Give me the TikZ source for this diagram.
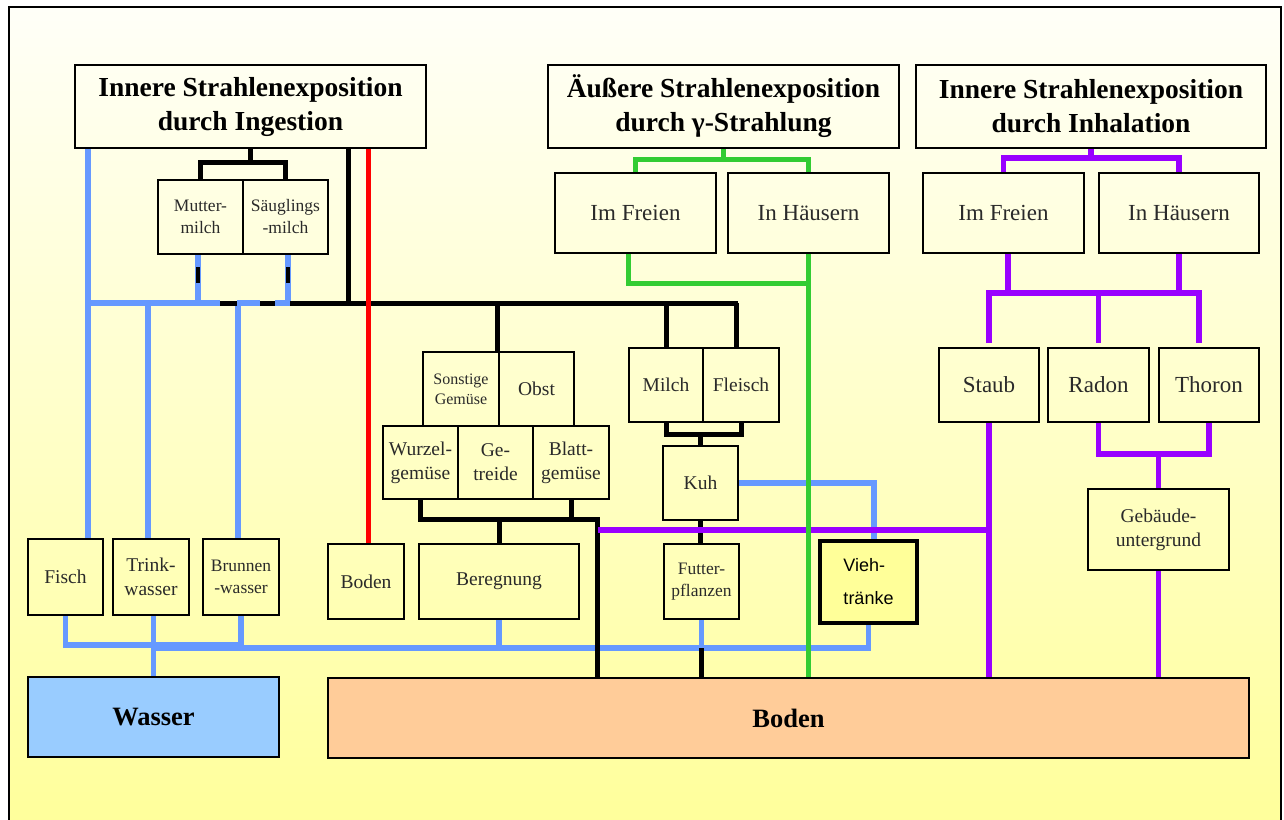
\documentclass[tikz,border=0pt]{standalone}
\usepackage{fontspec}
\setmainfont{Liberation Serif}
\newfontfamily\arialfont{Liberation Sans}
\usetikzlibrary{calc}
\definecolor{cblue}{HTML}{6699FF}
\definecolor{cgreen}{HTML}{33CC33}
\definecolor{cpurple}{HTML}{9900FF}
\definecolor{cred}{HTML}{FF0000}
\definecolor{txtgray}{HTML}{2A2A2A}
\definecolor{bgtop}{HTML}{FFFFF8}
\definecolor{bgmid}{HTML}{FFFFD2}
\definecolor{bgbot}{HTML}{FFFF99}
\definecolor{wasserfill}{HTML}{99CCFF}
\definecolor{bodenfill}{HTML}{FFCC99}
\definecolor{viehfill}{HTML}{FFFF99}
\newcommand{\mkbox}[7][boxM]{\node[#1, minimum width={#5-#3}, minimum height={#6-#4}] (#2) at ({(#3+#5)/2},{(#4+#6)/2}) {#7};}
\begin{document}
\begin{tikzpicture}[x=1pt,y=-1pt,
  box/.style={draw=black, line width=2.5pt, inner sep=0pt, align=center, text=txtgray},
  head/.style={box, text=black, font=\bfseries\fontsize{27.5}{34}\selectfont},
  boxL/.style={box, font=\fontsize{23}{27}\selectfont},
  boxM/.style={box, font=\fontsize{19.5}{24}\selectfont},
  boxS/.style={box, font=\fontsize{17.5}{22}\selectfont},
  boxXS/.style={box, font=\fontsize{16}{20}\selectfont},
  vbox/.style={box, line width=3.5pt, fill=viehfill, text=black, align=left, font=\arialfont\fontsize{18}{33}\selectfont},
  bigbox/.style={box, text=black, font=\bfseries\fontsize{26.5}{30}\selectfont},
  blk/.style={line width=5pt, draw=black},
  blu/.style={line width=5.5pt, draw=cblue},
  rd/.style={line width=5pt, draw=cred},
  grn/.style={line width=5pt, draw=cgreen},
  prp/.style={line width=5.5pt, draw=cpurple}
]
\useasboundingbox (0,0) rectangle (1284,819);
\fill[white] (0,0) rectangle (1284,819);
\shade[top color=bgtop, middle color=bgmid, bottom color=bgbot] (9,7) rectangle (1281,840);
\draw[line width=1.5pt] (9,840) -- (9,7) -- (1281,7) -- (1281,840);

% top headings
\mkbox[head]{ing}{75}{65}{426}{148}{Innere Strahlenexposition\\durch Ingestion}
\mkbox[head]{aus}{548}{65}{899}{148}{Äußere Strahlenexposition\\durch γ-Strahlung}
\mkbox[head]{inh}{916}{65}{1266}{148}{Innere Strahlenexposition\\durch Inhalation}
% gamma / inhalation sub boxes
\mkbox[boxL]{gf}{555}{173}{716}{253}{Im Freien}
\mkbox[boxL]{gh}{728}{173}{889}{253}{In Häusern}
\mkbox[boxL]{ifr}{923}{173}{1084}{253}{Im Freien}
\mkbox[boxL]{ih}{1099}{173}{1259}{253}{In Häusern}
% milk
\mkbox[boxS]{mm}{158}{180}{243}{254}{Mutter-\\milch}
\mkbox[boxS]{sm}{243}{180}{328}{254}{Säuglings\\-milch}
% plants
\mkbox[boxXS]{sg}{423}{352}{499}{426}{Sonstige\\Gemüse}
\mkbox[boxM]{ob}{499}{352}{574}{426}{Obst}
\mkbox[boxM]{wg}{383}{426}{458}{499}{Wurzel-\\gemüse}
\mkbox[boxM]{ge}{458}{426}{533}{499}{Ge-\\treide}
\mkbox[boxM]{bg}{533}{426}{609}{499}{Blatt-\\gemüse}
% animal
\mkbox[boxM]{mi}{629}{348}{703}{422}{Milch}
\mkbox[boxM]{fl}{703}{348}{779}{422}{Fleisch}
\mkbox[boxM]{kuh}{663}{446}{738}{520}{Kuh}
% inhalation
\mkbox[boxL]{st}{939}{348}{1039}{422}{Staub}
\mkbox[boxL]{ra}{1048}{348}{1149}{422}{Radon}
\mkbox[boxL]{th}{1159}{348}{1259}{422}{Thoron}
\mkbox[boxM]{gu}{1088}{489}{1229}{570}{Gebäude-\\untergrund}
% lower row
\mkbox[boxM]{fi}{28}{539}{103}{615}{Fisch}
\mkbox[boxM]{tw}{113}{539}{189}{615}{Trink-\\wasser}
\mkbox[boxS]{bw}{203}{539}{279}{615}{Brunnen\\-wasser}
\mkbox[boxM]{bs}{328}{544}{404}{619}{Boden}
\mkbox[boxM]{be}{419}{544}{579}{619}{Beregnung}
\mkbox[boxS]{fp}{664}{544}{739}{619}{Futter-\\pflanzen}
\mkbox[vbox]{vt}{820}{541}{917}{623}{Vieh-\\tränke}
% sources
\mkbox[bigbox,fill=wasserfill]{wa}{28}{677}{279}{757}{Wasser}
\mkbox[bigbox,fill=bodenfill]{bo}{328}{678}{1249}{758}{Boden}

% ---- blue connectors (under black)
\draw[blu] (ing.south -| 88,0) -- (fi.north -| 88,0);
\draw[blu] (88,303) -- (220,303);
\draw[blu] (tw.north -| 148,0) -- (148,303);
\draw[blu] (bw.north -| 238,0) -- (238,303);
\draw[blu] (mm.south -| 198,0) -- (198,303);
\draw[blu] (sm.south -| 288,0) -- (288,303);
\draw[blu] (fi.south) |- (bw.south |- 0,645) -- (bw.south);
\draw[blu] (wa.north |- tw.south) -- (wa.north);
\draw[blu] (wa.north |- 0,648) -| (vt.south);
\draw[blu] (be.south) -- (be.south |- 0,648);
\draw[blu] (fp.south) -- (fp.south |- 0,648);
\draw[blu] (kuh.east) -| (vt.north -| 874,0);

% ---- black connectors
\draw[blk] (ing.south) -- (ing.south |- 0,162);
\draw[blk] (mm.north) |- (sm.north |- 0,162) -- (sm.north);
\draw[blk] (ing.south -| 348,0) -- (348,303);
\draw[blk] (220,303) -- (738,303);
\draw[blk] (ob.north west |- 0,303) -- (ob.north west);
\draw[blk] (mi.north |- 0,303) -- (mi.north);
\draw[blk] (736,303) -- (fl.north -| 736,0);
\draw[blk] (mi.south) |- (fl.south |- 0,434) -- (fl.south);
\draw[blk] (kuh.north) -- (kuh.north |- 0,434);
\draw[blk] (kuh.south) -- (kuh.south |- fp.north);
\draw[blk] (fp.south |- 0,648) -- (fp.south |- bo.north);
\draw[blk] (wg.south) |- (597,519) -- (bo.north -| 597,0);
\draw[blk] (bg.south) -- (bg.south |- 0,519);
\draw[blk] (be.north |- 0,519) -- (be.north);
% blue pieces over the black trunk, black pieces over the milk links
\draw[blu] (237,303) -- (260,303);
\draw[blu] (275,303) -- (290,303);
\draw[blk, line width=4.5pt] (198,267) -- (198,283);
\draw[blk, line width=4.5pt] (288,267) -- (288,283);

% ---- red
\draw[rd] (ing.south -| 368,0) -- (bs.north -| 368,0);

% ---- purple
\draw[prp] (inh.south) -- (inh.south |- 0,158);
\draw[prp] (ifr.north) |- (ih.north |- 0,158) -- (ih.north);
\draw[prp] (ifr.south -| 1008,0) -- (1008,293);
\draw[prp] (ih.south) -- (ih.south |- 0,293);
\draw[prp] (st.north |- 0,343) |- (1199,293) -- (1199,343);
\draw[prp] (ra.north |- 0,293) -- (ra.north |- 0,343);
\draw[prp] (ra.south) |- (th.south |- 0,454) -- (th.south);
\draw[prp] (gu.north) -- (gu.north |- 0,454);
\draw[prp] (st.south) -- (st.south |- bo.north);
\draw[prp] (gu.south) -- (gu.south |- bo.north);
\draw[prp] (598,530) -- (st.south |- 0,530);

% ---- green
\draw[grn] (aus.south) -- (aus.south |- 0,159);
\draw[grn] (gf.north) |- (gh.north |- 0,159) -- (gh.north);
\draw[grn] (gf.south -| 628,0) |- (gh.south |- 0,283);
\draw[grn] (gh.south) -- (gh.south |- bo.north);
\end{tikzpicture}
\end{document}
